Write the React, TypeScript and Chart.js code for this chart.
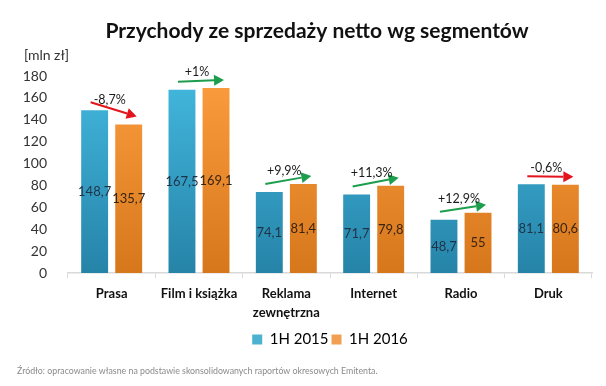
import React, { useEffect, useRef } from "react";
import { Chart, registerables } from "chart.js";

Chart.register(...registerables);

const categories: string[][] = [["Prasa"], ["Film i książka"], ["Reklama", "zewnętrzna"], ["Internet"], ["Radio"], ["Druk"]];
const series2015: number[] = [148.7, 167.5, 74.1, 71.7, 48.7, 81.1];
const series2016: number[] = [135.7, 169.1, 81.4, 79.8, 55, 80.6];
const changeLabels: string[] = ["-8,7%", "+1%", "+9,9%", "+11,3%", "+12,9%", "-0,6%"];
const seriesNames: string[] = ["1H 2015", "1H 2016"];
const yTicks: number[] = [0, 20, 40, 60, 80, 100, 120, 140, 160, 180];

const titleText = "Przychody ze sprzedaży netto wg segmentów";
const unitText = "[mln zł]";
const sourceText = "Źródło: opracowanie własne na podstawie skonsolidowanych raportów okresowych Emitenta.";

const FONT = "Lato, 'Open Sans', sans-serif";

function fmt(v: number): string {
  return String(v).replace(".", ",");
}

function gradient(chart: any, top: string, bottom: string, fallback: string) {
  const area = chart.chartArea;
  if (!area) return fallback;
  const g = chart.ctx.createLinearGradient(0, area.top, 0, area.bottom);
  g.addColorStop(0, top);
  g.addColorStop(1, bottom);
  return g;
}

function drawArrow(ctx: CanvasRenderingContext2D, x1: number, y1: number, x2: number, y2: number, color: string) {
  const ang = Math.atan2(y2 - y1, x2 - x1);
  const head = 10;
  const hw = 5.5;
  const bx = x2 - head * Math.cos(ang);
  const by = y2 - head * Math.sin(ang);
  ctx.save();
  ctx.strokeStyle = color;
  ctx.fillStyle = color;
  ctx.lineWidth = 2;
  ctx.beginPath();
  ctx.moveTo(x1, y1);
  ctx.lineTo(bx, by);
  ctx.stroke();
  ctx.beginPath();
  ctx.moveTo(x2, y2);
  ctx.lineTo(bx + hw * Math.sin(ang), by - hw * Math.cos(ang));
  ctx.lineTo(bx - hw * Math.sin(ang), by + hw * Math.cos(ang));
  ctx.closePath();
  ctx.fill();
  ctx.restore();
}

const overlayPlugin = {
  id: "overlay",
  afterDatasetsDraw(chart: any) {
    const ctx: CanvasRenderingContext2D = chart.ctx;
    const m0 = chart.getDatasetMeta(0);
    const m1 = chart.getDatasetMeta(1);
    ctx.save();
    ctx.font = `13px ${FONT}`;
    ctx.textAlign = "center";
    ctx.textBaseline = "middle";
    [m0, m1].forEach((meta: any, di: number) => {
      const vals = di === 0 ? series2015 : series2016;
      meta.data.forEach((bar: any, i: number) => {
        ctx.fillStyle = di === 0 ? "#1f3347" : "#3a2410";
        ctx.fillText(fmt(vals[i]), bar.x, (bar.y + bar.base) / 2);
      });
    });
    changeLabels.forEach((lbl, i) => {
      const b0 = m0.data[i];
      const b1 = m1.data[i];
      const neg = lbl.startsWith("-");
      const color = neg ? "#e3141c" : "#1c9e4c";
      const x1 = b0.x - 4;
      const y1 = b0.y - 8;
      const x2 = b1.x + 8;
      const y2 = b1.y - 8;
      drawArrow(ctx, x1, y1, x2, y2, color);
      ctx.fillStyle = "#1a1a1a";
      ctx.font = `12.5px ${FONT}`;
      ctx.textAlign = "center";
      ctx.textBaseline = "middle";
      ctx.fillText(lbl, (x1 + x2) / 2 - 4, (y1 + y2) / 2 - 9);
    });
    ctx.restore();
  },
  afterDraw(chart: any) {
    const ctx: CanvasRenderingContext2D = chart.ctx;
    ctx.save();
    ctx.fillStyle = "#111";
    ctx.font = `bold 21px ${FONT}`;
    ctx.textAlign = "center";
    ctx.textBaseline = "middle";
    ctx.fillText(titleText, 317, 31);
    ctx.font = `14px ${FONT}`;
    ctx.fillStyle = "#333";
    ctx.textAlign = "left";
    ctx.fillText(unitText, 24, 55);
    ctx.font = `8.8px ${FONT}`;
    ctx.fillStyle = "#8a8a8a";
    ctx.fillText(sourceText, 17, 371);
    ctx.restore();
  },
};

export default function App() {
  const ref = useRef<HTMLCanvasElement | null>(null);
  useEffect(() => {
    document.body.style.margin = "0";
    const canvas = ref.current;
    if (!canvas) return;
    const chart = new Chart(canvas, {
      type: "bar",
      data: {
        labels: categories,
        datasets: [
          {
            label: seriesNames[0],
            data: series2015,
            backgroundColor: (c: any) => gradient(c.chart, "#43b8de", "#2683a8", "#35a3c9"),
            borderWidth: 0,
            categoryPercentage: 0.78,
            barPercentage: 0.79,
          },
          {
            label: seriesNames[1],
            data: series2016,
            backgroundColor: (c: any) => gradient(c.chart, "#fb9d3e", "#d7771c", "#f08c2c"),
            borderWidth: 0,
            categoryPercentage: 0.78,
            barPercentage: 0.79,
          },
        ],
      },
      options: {
        animation: false,
        responsive: false,
        maintainAspectRatio: false,
        layout: { padding: { top: 76, right: 14, left: 0, bottom: 29 } },
        plugins: {
          legend: {
            position: "bottom",
            fullSize: false,
            labels: {
              boxWidth: 10,
              boxHeight: 10,
              padding: 3,
              color: "#333",
              font: { family: FONT, size: 15 },
              generateLabels: () =>
                seriesNames.map((n, i) => ({
                  text: n,
                  fillStyle: i === 0 ? "#4bb2cf" : "#f0a050",
                  strokeStyle: "transparent",
                  lineWidth: 0,
                  datasetIndex: i,
                  hidden: false,
                })),
            },
          },
          title: { display: false },
          tooltip: { enabled: false },
        },
        scales: {
          x: {
            grid: {
              offset: true,
              drawOnChartArea: false,
              drawTicks: true,
              tickLength: 5,
              color: "#d9d9d9",
            },
            border: { display: true, color: "#d9d9d9", width: 1.5 },
            ticks: {
              padding: 6,
              color: "#111",
              font: { family: FONT, size: 13, weight: "bold", lineHeight: 1.5 },
              maxRotation: 0,
            },
          },
          y: {
            min: 0,
            max: 180,
            afterBuildTicks: (s: any) => {
              s.ticks = yTicks.map((v) => ({ value: v }));
            },
            afterFit: (s: any) => {
              s.width = 68;
            },
            grid: { display: false },
            border: { display: false },
            ticks: {
              padding: 13,
              color: "#333",
              font: { family: FONT, size: 14 },
            },
          },
        },
      },
      plugins: [overlayPlugin],
    } as any);
    return () => chart.destroy();
  }, []);
  return (
    <div style={{ position: "absolute", left: 0, top: 0, width: 606, height: 386, background: "#fff" }}>
      <canvas ref={ref} width={606} height={386} style={{ width: 606, height: 386, display: "block" }} />
    </div>
  );
}
